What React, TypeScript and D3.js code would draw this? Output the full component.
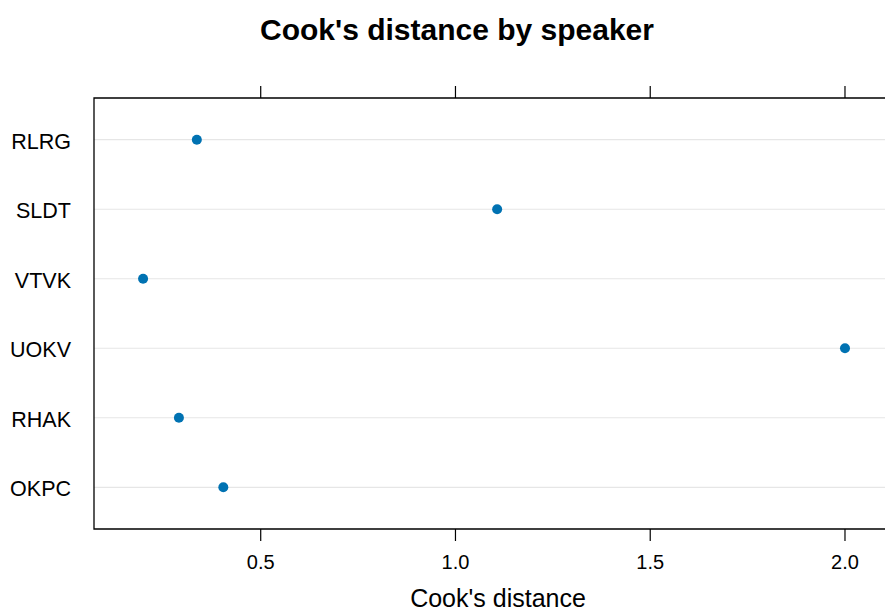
import React from "react";
import * as d3 from "d3";

const speakers = ["RLRG", "SLDT", "VTVK", "UOKV", "RHAK", "OKPC"];
const cooksD = [0.336, 1.107, 0.198, 2.0, 0.29, 0.404];
const xTicks = [0.5, 1.0, 1.5, 2.0];
const title = "Cook's distance by speaker";
const xLabel = "Cook's distance";

export default function App() {
  const W = 885, H = 613;
  const left = 94, top = 98, bottom = 529, right = 892;
  const x = d3.scaleLinear().domain([0.072, 2.1207]).range([left, right]);
  const y = d3.scalePoint<string>().domain(speakers).range([top, bottom]).padding(0.6);
  const font = "Liberation Sans, Arial, Helvetica, sans-serif";
  return (
    <svg width={W} height={H} style={{ position: "absolute", left: 0, top: 0 }} fontFamily={font}>
      <rect width={W} height={H} fill="#fff" />
      <text x={457} y={39.5} textAnchor="middle" fontSize={30} fontWeight="bold">{title}</text>
      {speakers.map((s) => (
        <line key={"g" + s} x1={left} x2={right} y1={y(s)} y2={y(s)} stroke="#e6e6e6" strokeWidth={1.2} />
      ))}
      <path d={`M${right},${top}H${left}V${bottom}H${right}`} fill="none" stroke="#000" strokeWidth={1.3} />
      {xTicks.map((t) => (
        <g key={"t" + t}>
          <line x1={x(t)} x2={x(t)} y1={top} y2={top - 12} stroke="#000" strokeWidth={1.2} />
          <line x1={x(t)} x2={x(t)} y1={bottom} y2={bottom + 12} stroke="#000" strokeWidth={1.2} />
          <text x={x(t)} y={569} textAnchor="middle" fontSize={20}>{d3.format(".1f")(t)}</text>
        </g>
      ))}
      {speakers.map((s) => (
        <text key={"l" + s} x={71} y={(y(s) as number) + 9} textAnchor="end" fontSize={21.5}>{s}</text>
      ))}
      {speakers.map((s, i) => (
        <circle key={"c" + s} cx={x(cooksD[i])} cy={y(s)} r={5} fill="#0072B2" />
      ))}
      <text x={498} y={607} textAnchor="middle" fontSize={25}>{xLabel}</text>
    </svg>
  );
}
